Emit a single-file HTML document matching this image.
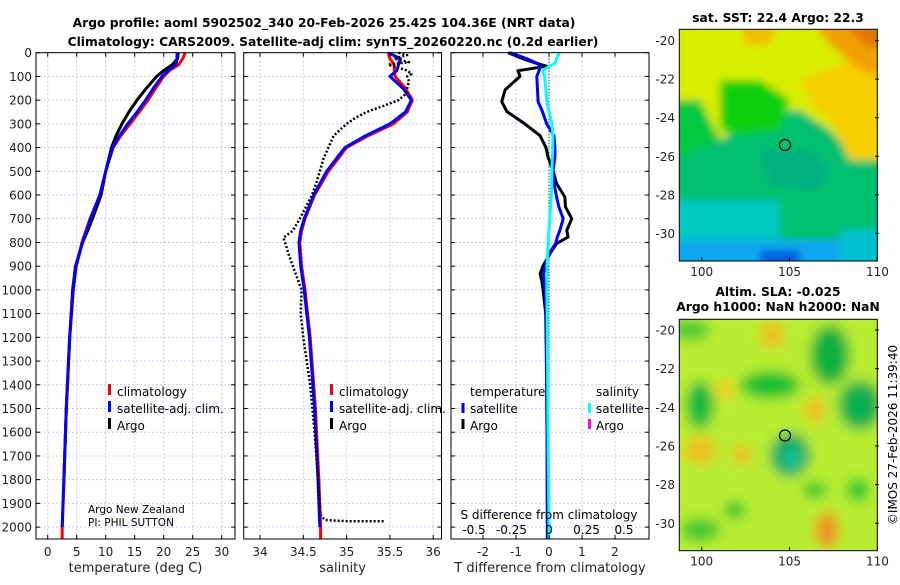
<!DOCTYPE html>
<html><head><meta charset="utf-8"><style>
body{margin:0;background:#fff;width:900px;height:580px;overflow:hidden}
svg{font-family:"DejaVu Sans","Liberation Sans",sans-serif}
</style></head><body>
<svg id="chart" width="900" height="580" viewBox="0 0 900 580" xmlns="http://www.w3.org/2000/svg">
<defs>
<filter id="blur4" x="-20%" y="-20%" width="140%" height="140%"><feGaussianBlur stdDeviation="4"/></filter>
<filter id="blur6" x="-30%" y="-30%" width="160%" height="160%"><feGaussianBlur stdDeviation="6"/></filter>
<clipPath id="m1clip"><rect x="679.3" y="29.3" width="198" height="231.7"/></clipPath>
<clipPath id="m2clip"><rect x="679.3" y="319.3" width="198" height="231.4"/></clipPath>
</defs>
<g font-weight="bold" font-size="12.3" text-anchor="middle">
<text x="324" y="27">Argo profile: aoml 5902502_340 20-Feb-2026 25.42S 104.36E (NRT data)</text>
<text x="333" y="46">Climatology: CARS2009. Satellite-adj clim: synTS_20260220.nc (0.2d earlier)</text>
</g>
<g id="grid"></g>
<g id="series"></g>
<g id="axes"></g>
<g font-size="12">
<rect x="108" y="384" width="3" height="11" fill="#f00"/><text x="117" y="396">climatology</text>
<rect x="108" y="401" width="3" height="11" fill="#00f"/><text x="117" y="413">satellite-adj. clim.</text>
<rect x="108" y="418" width="3" height="11" fill="#000"/><text x="117" y="430">Argo</text>
<text x="88" y="513" font-size="10.5">Argo New Zealand</text>
<text x="88" y="526" font-size="10.5">PI: PHIL SUTTON</text>
</g>
<g font-size="12">
<rect x="330" y="384" width="3" height="11" fill="#f00"/><text x="339" y="396">climatology</text>
<rect x="330" y="401" width="3" height="11" fill="#00f"/><text x="339" y="413">satellite-adj. clim.</text>
<rect x="330" y="418" width="3" height="11" fill="#000"/><text x="339" y="430">Argo</text>
</g>
<g font-size="12">
<text x="470" y="396">temperature</text><text x="596" y="396">salinity</text>
<rect x="461.5" y="403" width="3" height="10" fill="#00f"/><text x="470" y="413">satellite</text>
<rect x="461.5" y="419" width="3" height="10" fill="#000"/><text x="470" y="430">Argo</text>
<rect x="588" y="403" width="3" height="10" fill="#0ff"/><text x="596" y="413">satellite</text>
<rect x="588" y="419" width="3" height="10" fill="#f0f"/><text x="596" y="430">Argo</text>
<text x="549" y="519" text-anchor="middle">S difference from climatology</text>
</g>
<g>
<text x="778" y="22" font-weight="bold" font-size="12.3" text-anchor="middle">sat. SST: 22.4 Argo: 22.3</text>
<g clip-path="url(#m1clip)"><g filter="url(#blur4)">
<rect x="670" y="20" width="220" height="250" fill="#00c070"/>
<rect x="670" y="20" width="220" height="80" fill="#d8f000"/>
<path d="M670 100 L700 100 L720 140 L760 110 L800 110 L830 130 L860 160 L890 150 L890 20 Z" fill="#d8ee00"/>
<path d="M720 80 L760 80 L790 100 L780 130 L740 135 L720 130 Z" fill="#10d010"/>
<path d="M800 80 L850 60 L890 60 L890 160 L850 160 L830 120 L815 110 Z" fill="#f6d000"/>
<path d="M740 20 L780 20 L770 45 L745 45 Z" fill="#f0c000"/>
<path d="M810 20 L890 20 L890 80 L860 70 L830 45 Z" fill="#f0a000"/>
<path d="M840 20 L890 20 L890 50 L865 45 Z" fill="#e07800"/>
<path d="M670 100 L700 100 L720 140 L700 150 L670 160 Z" fill="#00c840"/>
<path d="M760 150 L810 150 L830 170 L820 190 L770 185 Z" fill="#00b080"/>
<rect x="670" y="200" width="110" height="70" fill="#00c8c0"/>
<rect x="670" y="240" width="220" height="30" fill="#10a8f0"/>
<rect x="840" y="230" width="50" height="40" fill="#00c0d0"/>
<rect x="760" y="250" width="40" height="20" fill="#0060e0"/>
</g>
<circle cx="785" cy="145" r="5.5" fill="none" stroke="#000" stroke-width="1.2"/>
</g>
<rect x="679.3" y="29.3" width="198" height="231.7" fill="none" stroke="#000" stroke-width="1"/>
</g>
<g>
<text x="778" y="296" font-weight="bold" font-size="12.3" text-anchor="middle">Altim. SLA: -0.025</text>
<text x="778" y="311" font-weight="bold" font-size="12.3" text-anchor="middle">Argo h1000: NaN h2000: NaN</text>
<g clip-path="url(#m2clip)"><g filter="url(#blur6)">
<rect x="670" y="310" width="220" height="250" fill="#b8ee30"/>
<ellipse cx="700" cy="405" rx="14" ry="24" fill="#10b840"/>
<ellipse cx="770" cy="385" rx="30" ry="14" fill="#10c030"/>
<ellipse cx="830" cy="355" rx="20" ry="30" fill="#10b040"/>
<ellipse cx="860" cy="405" rx="22" ry="25" fill="#10b050"/>
<ellipse cx="790" cy="455" rx="20" ry="22" fill="#00a860"/>
<ellipse cx="792" cy="458" rx="9" ry="9" fill="#20c8a0"/>
<ellipse cx="735" cy="510" rx="10" ry="9" fill="#10c030"/>
<ellipse cx="815" cy="490" rx="12" ry="8" fill="#10c030"/>
<ellipse cx="858" cy="490" rx="12" ry="12" fill="#20c830"/>
<ellipse cx="690" cy="330" rx="20" ry="10" fill="#40c830"/>
<ellipse cx="772" cy="335" rx="12" ry="14" fill="#f0c020"/>
<ellipse cx="725" cy="390" rx="10" ry="10" fill="#f0d020"/>
<ellipse cx="815" cy="410" rx="10" ry="14" fill="#f0c020"/>
<ellipse cx="700" cy="450" rx="16" ry="14" fill="#f0c020"/>
<ellipse cx="742" cy="455" rx="10" ry="10" fill="#f0c020"/>
<ellipse cx="827" cy="530" rx="12" ry="18" fill="#f09020"/>
<ellipse cx="700" cy="530" rx="20" ry="12" fill="#40c830"/>
</g>
<circle cx="785" cy="435.5" r="5.5" fill="none" stroke="#000" stroke-width="1.2"/>
</g>
<rect x="679.3" y="319.3" width="198" height="231.4" fill="none" stroke="#000" stroke-width="1"/>
<text transform="translate(897,435) rotate(-90)" font-size="12" text-anchor="middle">©IMOS 27-Feb-2026 11:39:40</text>
</g>
<g id="mapaxes" font-size="12"></g>
</svg>
<script>
const NS="http://www.w3.org/2000/svg";
// depth grid (m)
const depths=[0,25,50,75,100,150,200,250,300,350,400,500,600,700,750,800,900,1000,1200,1500,1800,2000,2050];
const tempClim=[23.7,23.3,22.6,21.0,20.0,18.6,17.3,15.8,14.2,12.6,11.3,10.0,9.0,7.3,6.6,5.9,4.9,4.4,3.8,3.2,2.8,2.5,2.5];
const tempSat=[22.3,22.3,22.1,20.8,19.7,18.2,16.9,15.4,13.8,12.4,11.2,10.0,9.0,7.4,6.7,6.0,4.9,4.4,3.8,3.2,2.8,2.5,2.5];
const tempArgo=[22.5,22.4,21.5,20.0,18.8,17.0,15.4,14.0,12.8,11.8,11.0,10.0,9.2,7.7,6.9,6.0,4.8,4.3,3.8,3.2,2.8,2.5,2.5];
const salClim=[35.48,35.5,35.55,35.55,35.56,35.68,35.76,35.70,35.54,35.25,35.0,34.79,34.63,34.52,34.48,34.46,34.48,34.52,34.58,34.64,34.68,34.70,34.70];
const salSat=[35.48,35.62,35.6,35.58,35.5,35.65,35.75,35.68,35.5,35.22,34.98,34.77,34.62,34.51,34.47,34.45,34.47,34.51,34.57,34.63,34.67,34.69,34.69];
const argoDepths=[0,10,25,40,50,75,90,100,120,150,175,200,225,250,275,300,350,400,450,500,550,600,650,700,750,780,800,850,900,1000,1100,1200,1400,1600,1800,1950,1970,1975,1975];
const salArgo=[35.6,35.7,35.55,35.72,35.48,35.7,35.75,35.7,35.72,35.7,35.68,35.6,35.42,35.23,35.1,35.0,34.85,34.79,34.73,34.69,34.65,34.6,34.53,34.46,34.38,34.27,34.29,34.33,34.38,34.48,34.47,34.5,34.58,34.63,34.67,34.7,34.75,35.0,35.45];
const diffDepths=[0,25,45,57,76,100,157,206,248,300,350,400,440,496,552,608,650,700,749,777,805,847,896,931,960,1000,1100,1300,1600,2000,2050];
const tDiffArgo=[-1.24,-0.8,-0.37,-0.07,-0.94,-0.88,-1.33,-1.43,-1.28,-0.73,-0.27,-0.09,-0.03,0.12,0.23,0.48,0.5,0.69,0.54,0.58,0.23,0.03,-0.17,-0.27,-0.22,-0.18,-0.1,-0.08,-0.06,-0.05,-0.05];
const tDiffSat=[-1.18,-0.68,-0.35,-0.27,-0.3,-0.37,-0.35,-0.33,-0.2,-0.07,0.15,0.18,0.18,0.12,0.15,0.23,0.3,0.43,0.33,0.25,0.2,0.0,-0.1,-0.17,-0.15,-0.12,-0.08,-0.07,-0.06,-0.05,-0.05];
const sDiffSat=[0.07,0.05,0.04,0.0,-0.04,-0.03,-0.02,-0.015,0.0,0.02,0.026,0.025,0.022,0.02,0.018,0.015,0.01,0.005,0.0,-0.005,-0.005,-0.01,-0.012,-0.014,-0.015,-0.015,-0.012,-0.01,-0.006,0.0,0.0];
const depthTicks=[0,100,200,300,400,500,600,700,800,900,1000,1100,1200,1300,1400,1500,1600,1700,1800,1900,2000];
const tTicks=[0,5,10,15,20,25,30];
const sTicks=[34,34.5,35,35.5,36];
const sTickLabels=["34","34.5","35","35.5","36"];
const dTicks=[-2,-1,0,1,2];
const sdTicks=[-0.5,-0.25,0,0.25,0.5];
const sdTickLabels=["-0.5","-0.25","0","0.25","0.5"];
const lonTicks=[100,105,110];
const latTicks=[-20,-22,-24,-26,-28,-30];

const Y0=52.7,Y1=539;
const ty=d=>Y0+d*0.2372;
const P1={x0:36,x1:235},P2={x0:243.7,x1:441.5},P3={x0:451,x1:649};
const tx=t=>47.7+t*5.8;
const sx=s=>260+(s-34)*86.6;
const dx=v=>549+v*33;
const sdx=v=>549+v*150;
const lonx=l=>701.7+(l-100)*17.57;
const laty1=l=>40.7+(-20-l)*19.26;
const laty2=l=>330+(-20-l)*19.33;

function el(tag,attrs,parent,text){const e=document.createElementNS(NS,tag);for(const k in attrs)e.setAttribute(k,attrs[k]);if(text!==undefined)e.textContent=text;parent.appendChild(e);return e;}
const grid=document.getElementById('grid'),series=document.getElementById('series'),axes=document.getElementById('axes'),mapaxes=document.getElementById('mapaxes');

function panelGrid(P,ticks,fx){
  depthTicks.forEach(d=>{const l=el('line',{x1:P.x0,x2:P.x1,y1:ty(d),y2:ty(d),stroke:'#c4ccec','stroke-width':1,'stroke-dasharray':'2,2'},grid);
    
    });
  ticks.forEach(t=>{const l=el('line',{x1:fx(t),x2:fx(t),y1:Y0,y2:Y1,stroke:'#c4ccec','stroke-width':1,'stroke-dasharray':'2,2'},grid);
    
    });
}
panelGrid(P1,tTicks,tx);panelGrid(P2,sTicks,sx);panelGrid(P3,dTicks,dx);

function line(xs,ds,fx,color,w,name,dash){
  const pts=xs.map((v,i)=>fx(v).toFixed(1)+','+ty(ds[i]).toFixed(1)).join(' ');
  const a={points:pts,fill:'none',stroke:color,'stroke-width':w,'stroke-linejoin':'round'};
  if(dash)a['stroke-dasharray']=dash;
  const p=el('polyline',a,series);
  
  
}
line(tempArgo,depths.slice(0,-2),tx,'#000',3,'temp-argo-line');
line(tempClim,depths,tx,'#f00',3,'temp-climatology-line');
line(tempSat,depths.slice(0,-1),tx,'#00f',3,'temp-satellite-line');
line(salClim,depths,sx,'#f00',3,'sal-climatology-line');
line(salSat,depths.slice(0,-1),sx,'#00f',3,'sal-satellite-line');
line(salArgo,argoDepths,sx,'#000',2.5,'sal-argo-line','2,2');
el('line',{x1:549,x2:549,y1:Y0,y2:Y1,stroke:'#000','stroke-width':1,'stroke-dasharray':'1,2'},series);
line(tDiffArgo,diffDepths,dx,'#000',3,'tdiff-argo-line');
line(tDiffSat,diffDepths,dx,'#00f',3,'tdiff-satellite-line');
line(sDiffSat,diffDepths,sdx,'#0ff',3,'sdiff-satellite-line');

function panelAxes(P,ticks,labels,fx,xlabel,name,showY){
  const r=el('rect',{x:P.x0,y:Y0,width:P.x1-P.x0,height:Y1-Y0,fill:'none',stroke:'#000','stroke-width':1},axes);
  
  
  depthTicks.forEach(d=>{el('line',{x1:P.x0,x2:P.x0+4,y1:ty(d),y2:ty(d),stroke:'#000'},axes);el('line',{x1:P.x1-4,x2:P.x1,y1:ty(d),y2:ty(d),stroke:'#000'},axes);
    if(showY){const t=el('text',{x:P.x0-4,y:ty(d)+4.5,'font-size':12,'text-anchor':'end',fill:'#222'},axes,String(d));
      
      }});
  ticks.forEach((v,i)=>{el('line',{x1:fx(v),x2:fx(v),y1:Y1-4,y2:Y1,stroke:'#000'},axes);el('line',{x1:fx(v),x2:fx(v),y1:Y0,y2:Y0+4,stroke:'#000'},axes);
    const t=el('text',{x:fx(v),y:556,'font-size':12,'text-anchor':'middle',fill:'#222'},axes,labels[i]);
    
    });
  const xl=el('text',{x:(P.x0+P.x1)/2,y:572,'font-size':13,'text-anchor':'middle',fill:'#222'},axes,xlabel);
  
  
}
panelAxes(P1,tTicks,tTicks.map(String),tx,'temperature (deg C)','temperature',true);
panelAxes(P2,sTicks,sTickLabels,sx,'salinity','salinity',false);
panelAxes(P3,dTicks,dTicks.map(String),dx,'T difference from climatology','tdiff',false);
sdTicks.forEach((v,i)=>{const t=el('text',{x:sdx(v),y:534,'font-size':12,'text-anchor':'middle',fill:'#000'},axes,sdTickLabels[i]);
  
  });

function mapAxes(fy,ybot,ytop){
  lonTicks.forEach(l=>{el('line',{x1:lonx(l),x2:lonx(l),y1:ybot-4,y2:ybot,stroke:'#000'},mapaxes);
    const t=el('text',{x:lonx(l),y:ybot+15,'text-anchor':'middle',fill:'#222'},mapaxes,String(l));
    
    });
  latTicks.forEach(l=>{el('line',{x1:879,x2:875,y1:fy(l),y2:fy(l),stroke:'#000'},mapaxes);
    const t=el('text',{x:675,y:fy(l)+4.5,'text-anchor':'end',fill:'#222'},mapaxes,String(l));
    
    });
}
mapAxes(laty1,261,29.3);mapAxes(laty2,550.7,319.3);
</script>
</body></html>
